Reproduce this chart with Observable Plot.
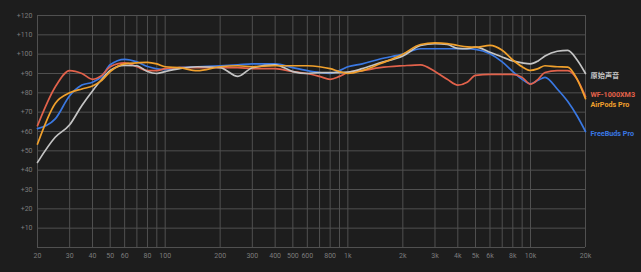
<!DOCTYPE html>
<html><head><meta charset="utf-8">
<script src="https://cdn.jsdelivr.net/npm/d3@7"></script>
<script src="https://cdn.jsdelivr.net/npm/@observablehq/plot@0.6"></script>
<style>
html,body{margin:0;padding:0;background:#1d1d1d;}
</style>
</head><body><div id="chart"></div>
<script>
const freqs = [20,25,30,35,40,45,50,60,70,80,90,100,120,150,200,250,300,400,500,600,700,800,900,1000,1200,1500,2000,2500,3000,3500,4000,4500,5000,6000,7000,8000,9000,10000,11000,12000,14000,16000,18000,20000];
const original    = [44,57,63.5,73.5,81,87,91.6,94.2,94,91,90,91,92.5,93.5,93,88.5,93,94.5,91,90,90.5,90.5,90.5,90.7,92.5,95.5,99,104.5,105.4,105,103,102.8,103.6,101,98.5,96.5,95.5,95,96.5,99,101.5,102,97,90];
const wf1000xm3   = [63,83,91.5,90,87,89,93.5,95.5,93.5,91.5,91.5,92.5,93,93,93,93,92.5,92.5,91,90,88.5,87,88.5,90.5,91.5,93,94,94.5,91,87,84,85.5,89,89.5,89.5,89.5,88,84.5,87,90.5,91.5,91.5,87,78];
const airpodsPro  = [53.5,74.5,80,82,83.5,86.5,91,95,95.5,95.8,95,93.5,93,91.5,93.5,94,93.5,94,94,94,93.5,92.5,91,90,91.5,95,100,105,105.8,105.5,104.5,103.8,103.6,104.5,102,97,93.5,91.6,92.5,94,93.5,93.3,87,77];
const freebudsPro = [61.5,66.5,78.5,84,85.5,88.5,94.5,97.3,96,93.6,92.4,92,93,93.5,94,94.5,95,95,93,91.5,90.5,90,91.5,93.5,95,97.5,100,102.8,102.8,102.8,102.8,102.8,102.5,100.2,96,91,87,84.7,86.5,88,82,75.5,68,60];

const seriesNames = ["FreeBuds Pro","WF-1000XM3","原始声音","AirPods Pro"];
const seriesValues = [freebudsPro, wf1000xm3, original, airpodsPro];
const seriesColors = ["#3a78e2","#e2624b","#c4c4c4","#f0a02c"];

const gridFreqs = [20,30,40,50,60,70,80,90,100,200,300,400,500,600,700,800,900,1000,2000,3000,4000,5000,6000,7000,8000,9000,10000,20000];
const tickFreqs = [20,30,40,50,60,80,100,200,300,400,500,600,800,1000,2000,3000,4000,5000,6000,8000,10000,20000];
const tickLabels = ["20","30","40","50","60","80","100","200","300","400","500","600","800","1k","2k","3k","4k","5k","6k","8k","10k","20k"];
const yGrid = [0,10,20,30,40,50,60,70,80,90,100,110,120];
const yTicks = [10,20,30,40,50,60,70,80,90,100,110,120];

const rows = seriesNames.flatMap((s, k) => freqs.map((f, i) => ({s, f, v: seriesValues[k][i]})));

const labelOrder = ["原始声音","WF-1000XM3","AirPods Pro","FreeBuds Pro"];
const labelDy = {"原始声音": 2, "WF-1000XM3": -2, "AirPods Pro": 6, "FreeBuds Pro": 2};

const font = "Roboto, 'Noto Sans CJK SC', sans-serif";

const chart = Plot.plot({
  width: 641,
  height: 272,
  marginLeft: 37,
  marginRight: 56,
  marginTop: 15,
  marginBottom: 25,
  style: {background: "#1d1d1d", fontFamily: font, overflow: "visible"},
  x: {type: "log", domain: [20, 20000], axis: null},
  y: {domain: [0, 120], axis: null},
  color: {domain: seriesNames, range: seriesColors},
  marks: [
    Plot.ruleX(gridFreqs, {x: d => d, stroke: "#505050", strokeWidth: 1}),
    Plot.ruleY(yGrid, {y: d => d, stroke: "#505050", strokeWidth: 1}),
    Plot.text(tickFreqs, {x: d => d, frameAnchor: "bottom", dy: 10, text: (d, i) => tickLabels[i],
      fontSize: 7, fill: "#7c7c7c"}),
    Plot.text(yTicks, {y: d => d, frameAnchor: "left", dx: -5, textAnchor: "end", text: d => "+" + d,
      fontSize: 7, fill: "#7c7c7c"}),
    Plot.line(rows, {x: "f", y: "v", z: "s", stroke: "s", curve: "monotone-x", strokeWidth: 1.7}),
    ...labelOrder.map(name => {
      const k = seriesNames.indexOf(name);
      const vals = seriesValues[k];
      return Plot.text([name], {
        x: freqs[freqs.length - 1], y: vals[vals.length - 1], text: d => d,
        dx: 5, dy: labelDy[name], textAnchor: "start", fontSize: 7.2, fontWeight: "bold",
        fill: seriesColors[k]
      });
    })
  ]
});
document.getElementById("chart").append(chart);
</script>
</body></html>
